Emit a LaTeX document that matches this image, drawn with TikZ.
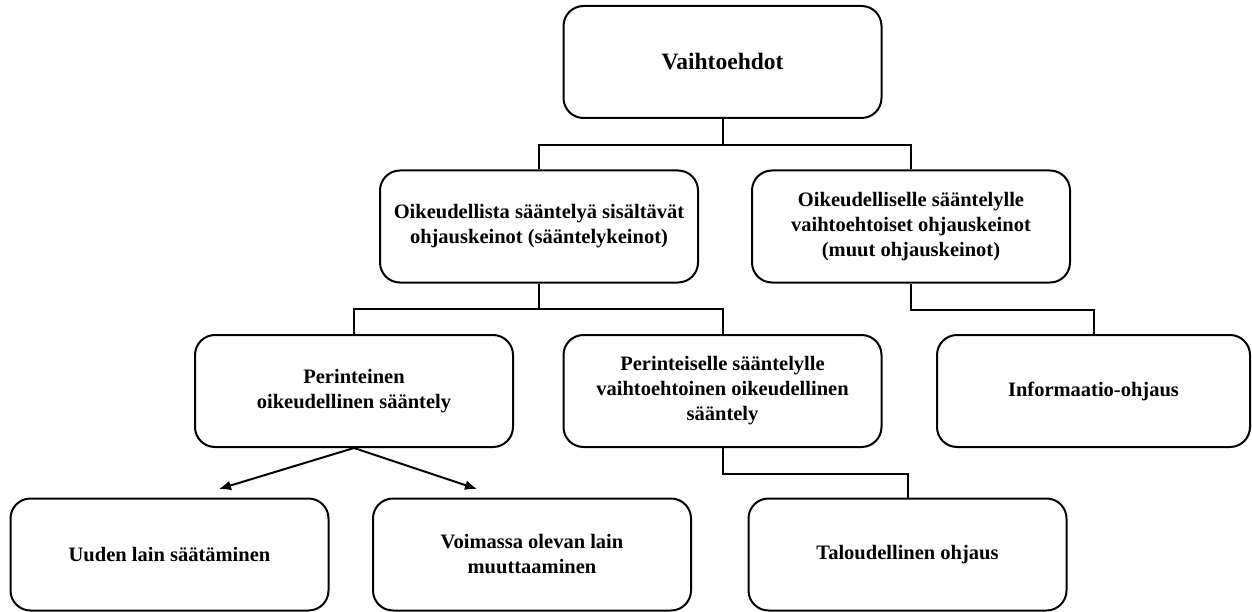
\documentclass[tikz,border=0pt]{standalone}
\usepackage{fontspec}
\setmainfont{Liberation Serif}
\usetikzlibrary{arrows.meta}

\begin{document}
\begin{tikzpicture}[x=1pt, y=-1pt, line width=2pt,
  box/.style={rectangle, rounded corners=20pt, draw, minimum width=#1, minimum height=112pt,
    align=center, font=\fontsize{20.5}{25}\selectfont\bfseries},
  box/.default=318pt]

  \useasboundingbox (0,0) rectangle (1252,612);

  \node[box, font=\fontsize{23.5}{28}\selectfont\bfseries] (V) at (722.5,62) {Vaihtoehdot};

  \node[box] (A) at (539,226.5) {Oikeudellista sääntelyä sisältävät\\ohjauskeinot (sääntelykeinot)};
  \node[box] (B) at (911,226.5) {Oikeudelliselle sääntelylle\\vaihtoehtoiset ohjauskeinot\\(muut ohjauskeinot)};

  \node[box] (A1) at (354,391) {Perinteinen\\oikeudellinen sääntely};
  \node[box] (A2) at (722.5,391) {Perinteiselle sääntelylle\\vaihtoehtoinen oikeudellinen\\sääntely};
  \node[box=313pt] (B1) at (1093.5,391) {Informaatio-ohjaus};

  \node[box] (C1) at (169.5,554.5) {Uuden lain säätäminen};
  \node[box] (C2) at (532,554.5) {Voimassa olevan lain\\muuttaaminen};
  \node[box] (C3) at (907.5,554.5) {Taloudellinen ohjaus};

  \coordinate (a1) at (219,489);
  \coordinate (a2) at (477,489);

  \draw (V.south) -- ++(0,26) -| (A.north);
  \draw (V.south) -- ++(0,26) -| (B.north);
  \draw (A.south) -- ++(0,25) -| (A1.north);
  \draw (A.south) -- ++(0,25) -| (A2.north);
  \draw (B.south) -- ++(0,26) -| (B1.north);
  \draw (A2.south) -- ++(0,26) -| (C3.north);
  \draw[-{Latex[length=12pt,width=10pt]}] (A1.south) -- (a1);
  \draw[-{Latex[length=12pt,width=10pt]}] (A1.south) -- (a2);

\end{tikzpicture}
\end{document}
